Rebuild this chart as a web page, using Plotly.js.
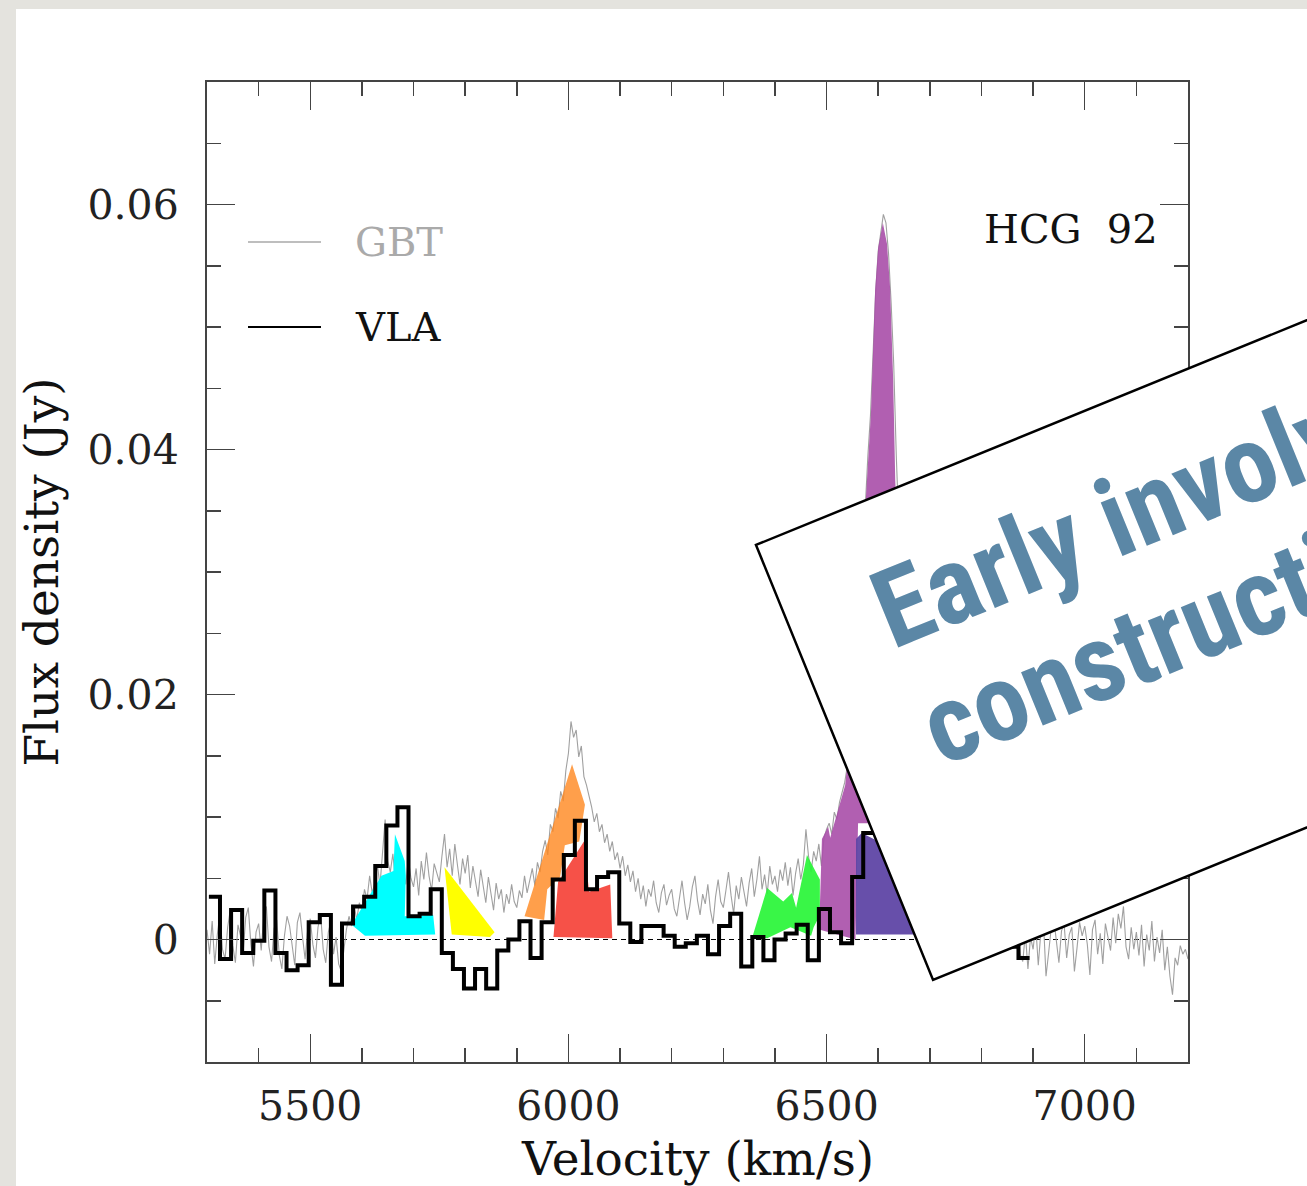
<!DOCTYPE html>
<html><head><meta charset="utf-8">
<script src="https://cdn.plot.ly/plotly-3.0.1.min.js"></script>
<style>html,body{margin:0;padding:0;background:#e4e3de;} #chart{width:1307px;height:1186px;}</style>
</head><body><div id="chart"></div>
<script>
// ---------- GBT spectrum (Jy), 5 km/s channels starting at 5300 km/s ----------
const gbtStartVelocity = 5300;
const gbtChannelStep = 5;
const gbtFlux = [
 0.0008,-0.0012,0.0015,-0.0020,0.0004,0.0021,-0.0008,-0.0016,0.0010,0.0024,-0.0005,-0.0019,0.0012,0.0003,-0.0011,0.0018,0.0026,-0.0004,-0.0022,0.0006,
 0.0013,-0.0009,0.0020,0.0027,-0.0006,-0.0018,0.0009,0.0016,-0.0013,-0.0024,0.0003,0.0019,0.0011,-0.0007,-0.0021,0.0014,0.0022,0.0002,-0.0016,0.0008,
 0.0017,-0.0004,-0.0015,0.0010,0.0021,-0.0008,-0.0019,0.0006,0.0015,-0.0012,0.0002,-0.0020,-0.0026,-0.0009,0.0008,0.0019,0.0011,0.0028,0.0016,0.0030,
 0.0024,0.0041,0.0033,0.0052,0.0038,0.0046,0.0061,0.0044,0.0072,0.0098,0.0064,0.0055,0.0070,0.0048,0.0062,0.0039,0.0057,0.0045,0.0066,0.0050,
 0.0043,0.0058,0.0036,0.0064,0.0049,0.0071,0.0052,0.0040,0.0062,0.0055,0.0047,0.0068,0.0086,0.0059,0.0074,0.0052,0.0078,0.0061,0.0045,0.0066,
 0.0054,0.0069,0.0042,0.0060,0.0048,0.0035,0.0057,0.0044,0.0030,0.0051,0.0038,0.0024,0.0046,0.0033,0.0041,0.0022,0.0037,0.0029,0.0045,0.0031,
 0.0026,0.0040,0.0034,0.0052,0.0038,0.0047,0.0058,0.0044,0.0063,0.0055,0.0072,0.0081,0.0069,0.0094,0.0088,0.0107,0.0099,0.0121,0.0113,0.0138,
 0.0152,0.0178,0.0165,0.0171,0.0149,0.0158,0.0133,0.0126,0.0117,0.0108,0.0096,0.0103,0.0088,0.0094,0.0079,0.0086,0.0072,0.0080,0.0065,0.0071,
 0.0058,0.0068,0.0052,0.0061,0.0047,0.0056,0.0039,0.0050,0.0033,0.0044,0.0027,0.0041,0.0035,0.0048,0.0030,0.0022,0.0038,0.0045,0.0028,0.0036,
 0.0041,0.0025,0.0019,0.0034,0.0048,0.0030,0.0016,0.0027,0.0043,0.0052,0.0032,0.0020,0.0037,0.0029,0.0045,0.0024,0.0013,0.0035,0.0049,0.0031,
 0.0026,0.0040,0.0055,0.0036,0.0021,0.0044,0.0033,0.0051,0.0038,0.0027,0.0046,0.0058,0.0035,0.0049,0.0068,0.0041,0.0053,0.0037,0.0060,0.0045,
 0.0052,0.0039,0.0057,0.0048,0.0063,0.0044,0.0059,0.0036,0.0054,0.0066,0.0049,0.0061,0.0090,0.0068,0.0055,0.0072,0.0064,0.0078,0.0060,0.0083,
 0.0090,0.0095,0.0086,0.0104,0.0098,0.0112,0.0120,0.0128,0.0141,0.0160,0.0185,0.0210,0.0235,0.0270,0.0315,0.0355,0.0395,0.0428,0.0480,0.0528,
 0.0562,0.0578,0.0592,0.0585,0.0560,0.0520,0.0470,0.0395,0.0330,0.0280,0.0240,0.0205,0.0185,0.0160,0.0150,0.0132,0.0125,0.0110,0.0102,0.0095,
 0.0088,0.0096,0.0080,0.0085,0.0072,0.0078,0.0066,0.0070,0.0061,0.0064,0.0055,0.0060,0.0049,0.0053,0.0046,0.0051,0.0040,0.0044,0.0037,0.0042,
 0.0035,0.0028,0.0033,0.0022,0.0030,0.0018,0.0025,0.0012,0.0021,0.0008,0.0016,0.0004,0.0011,-0.0006,0.0009,-0.0012,-0.0018,0.0005,-0.0024,0.0002,
 -0.0008,0.0012,-0.0021,0.0006,0.0015,-0.0030,-0.0011,0.0009,0.0017,-0.0004,-0.0019,0.0007,0.0013,-0.0015,0.0004,0.0010,-0.0026,-0.0007,0.0014,0.0003,
 0.0011,-0.0004,-0.0029,0.0008,0.0016,-0.0012,0.0005,-0.0020,0.0013,0.0002,-0.0009,0.0018,-0.0003,0.0021,0.0009,0.0027,-0.0006,-0.0016,0.0010,-0.0008,
 0.0006,-0.0013,0.0012,-0.0022,0.0004,-0.0009,0.0015,-0.0018,0.0002,-0.0011,0.0008,-0.0025,-0.0006,-0.0030,-0.0045,-0.0015,-0.0021,-0.0005,-0.0012,-0.0008,-0.0016
];

// ---------- VLA spectrum: channel centres (km/s) and flux (Jy) ----------
const vlaChannelWidth = 21.48;
const vlaVelocity = [
 5314.4,5335.9,5357.4,5378.8,5400.3,5421.8,5443.3,5464.8,5486.2,5507.7,
 5529.2,5550.7,5572.2,5593.6,5615.1,5636.6,5658.1,5679.6,5701.0,5722.5,
 5744.0,5765.5,5787.0,5808.4,5829.9,5851.4,5872.9,5894.4,5915.8,5937.3,
 5958.8,5980.3,6001.8,6023.2,6044.7,6066.2,6087.7,6109.2,6130.6,6152.1,
 6173.6,6195.1,6216.6,6238.0,6259.5,6281.0,6302.5,6324.0,6345.4,6366.9,
 6388.4,6409.9,6431.4,6452.8,6474.3,6495.8,6517.3,6538.8,6560.2,6581.7,
 6603.2,6624.7,6646.2,6667.6,6689.1,6710.6,6732.1,6753.6,6775.0,6796.5,
 6818.0,6839.5,6861.0,6882.4
];
const vlaFlux = [
 0.0035,-0.0016,0.0024,-0.0011,-0.0001,0.0040,-0.0011,-0.0025,-0.0021,0.0014,
 0.0020,-0.0037,0.0013,0.0027,0.0035,0.0060,0.0093,0.0108,0.0019,0.0021,
 0.0041,-0.0011,-0.0024,-0.0040,-0.0024,-0.0040,-0.0009,0.0000,0.0015,-0.0015,
 0.0014,0.0049,0.0069,0.0097,0.0041,0.0051,0.0055,0.0013,-0.0002,0.0011,
 0.0011,0.0003,-0.0006,-0.0003,0.0003,-0.0012,0.0011,0.0021,-0.0022,0.0002,
 -0.0017,0.0000,0.0005,0.0012,-0.0017,0.0025,0.0006,-0.0003,0.0051,0.0087,
 0.0090,0.0082,0.0070,0.0058,0.0045,0.0032,0.0024,0.0015,0.0010,0.0004,
 0.0002,-0.0004,-0.0006,-0.0015
];

// ---------- highlighted components (polygon vertices: velocity, flux) ----------
const cyanVel   = [5580,5638,5661,5664,5683,5685,5683,5738,5742,5606];
const cyanFlux  = [0.0012,0.0052,0.0056,0.0086,0.0064,0.0052,0.0019,0.0020,0.0004,0.0003];
const yellowVel  = [5760,5857,5848,5774];
const yellowFlux = [0.0059,0.0006,0.0002,0.0004];
const orangeVel  = [5915,6007,6032,6021,5993,5984,5959,5953];
const orangeFlux = [0.0019,0.0143,0.0110,0.0080,0.0077,0.0051,0.0041,0.0016];
const redVel  = [5971,5980,6030,6040,6081,6085];
const redFlux = [0.0002,0.0047,0.0080,0.0039,0.0045,0.0001];
const greenVel  = [6357,6385,6416,6433,6441,6462,6487,6487,6475,6470,6430,6385];
const greenFlux = [0.0003,0.0042,0.0031,0.0038,0.0026,0.0069,0.0049,0.0020,0.0010,0.0003,0.0010,0.0001];
const purpleVel  = [6487,6487,6491,6503,6507,6526,6536,6545,6561,6576,6586,6594,6600,6609,6617,6623,6629,6633,6642,6652,6580,6561,6556];
const purpleFlux = [0.0008,0.0027,0.0082,0.0092,0.0083,0.0112,0.0126,0.0163,0.0236,0.0359,0.0430,0.0530,0.0565,0.0585,0.0568,0.0532,0.0457,0.0375,0.0277,0.0147,0.0095,0.0095,0.0000];
const slateVel  = [6557,6557,6568,6625,6700];
const slateFlux = [0.0004,0.0082,0.0087,0.0075,0.0004];

// ---------- axes ----------
const xTickVals = [5500,6000,6500,7000];
const xTickText = ['5500','6000','6500','7000'];
const yTickVals = [0,0.02,0.04,0.06];
const yTickText = ['0','0.02','0.04','0.06'];

const gbtVelocity = gbtFlux.map((_, i) => gbtStartVelocity + i * gbtChannelStep);
const vlaStepX = vlaVelocity.map(v => v - vlaChannelWidth / 2)
  .concat([vlaVelocity[vlaVelocity.length - 1] + vlaChannelWidth / 2]);
const vlaStepY = vlaFlux.concat([vlaFlux[vlaFlux.length - 1]]);

function poly(x, y, color) {
  return {x: x, y: y, type: 'scatter', mode: 'lines', fill: 'toself',
          fillcolor: color, line: {width: 0}, hoverinfo: 'skip', showlegend: false};
}

const traces = [
  {x: gbtVelocity, y: gbtFlux, type: 'scatter', mode: 'lines', name: 'GBT',
   line: {color: '#a0a0a0', width: 1.1}, showlegend: false},
  poly(cyanVel, cyanFlux, 'rgb(0,255,255)'),
  poly(yellowVel, yellowFlux, 'rgb(255,255,0)'),
  poly(orangeVel, orangeFlux, 'rgba(255,135,30,0.8)'),
  poly(redVel, redFlux, 'rgba(245,50,40,0.85)'),
  poly(greenVel, greenFlux, 'rgba(40,245,55,0.92)'),
  poly(purpleVel, purpleFlux, 'rgba(168,78,168,0.9)'),
  poly(slateVel, slateFlux, 'rgba(95,70,165,0.95)'),
  {x: vlaStepX, y: vlaStepY, type: 'scatter', mode: 'lines', name: 'VLA',
   line: {color: '#000', width: 4, shape: 'hv'}, showlegend: false}
];

const axisCommon = {
  showgrid: false, zeroline: false, showline: true, linecolor: '#444', linewidth: 2,
  mirror: 'allticks', ticks: 'inside', ticklen: 28, tickwidth: 1.5, tickcolor: '#444',
  tickfont: {family: 'DejaVu Serif, serif', size: 41, color: '#222'}
};

const serif = 'DejaVu Serif, serif';
const boxFont = 'Roboto Condensed, Roboto, Liberation Sans, sans-serif';

const layout = {
  width: 1307, height: 1186,
  margin: {l: 207, r: 119, t: 82, b: 124, pad: 0},
  paper_bgcolor: '#e4e3de', plot_bgcolor: 'rgba(0,0,0,0)',
  showlegend: false,
  xaxis: Object.assign({}, axisCommon, {
    range: [5300, 7200], tickmode: 'array', tickvals: xTickVals, ticktext: xTickText,
    ticklabelstandoff: 7,
    minor: {tickmode: 'linear', tick0: 5300, dtick: 100, ticks: 'inside', ticklen: 14, tickwidth: 1.5, tickcolor: '#444', showgrid: false}
  }),
  yaxis: Object.assign({}, axisCommon, {
    range: [-0.01, 0.07], tickmode: 'array', tickvals: yTickVals, ticktext: yTickText,
    ticklabelstandoff: 18,
    minor: {tickmode: 'linear', tick0: 0, dtick: 0.005, ticks: 'inside', ticklen: 14, tickwidth: 1.5, tickcolor: '#444', showgrid: false}
  }),
  shapes: [
    // white panel behind the figure
    {type: 'rect', xref: 'paper', yref: 'paper', x0: -0.1947, x1: 1.3, y0: -0.2, y1: 1.0745,
     fillcolor: '#ffffff', line: {width: 0}, layer: 'below'},
    // dashed zero line
    {type: 'line', xref: 'paper', yref: 'y', x0: 0, x1: 1, y0: 0, y1: 0,
     line: {color: '#000', width: 1, dash: '5px,4px'}, layer: 'below'},
    // legend samples
    {type: 'line', xref: 'paper', yref: 'paper', x0: 0.0418, x1: 0.1162, y0: 0.8367, y1: 0.8367,
     line: {color: '#a8a8a8', width: 1.5}},
    {type: 'line', xref: 'paper', yref: 'paper', x0: 0.0418, x1: 0.1162, y0: 0.75, y1: 0.75,
     line: {color: '#000', width: 2}},
    // rotated slide card
    {type: 'path', xref: 'paper', yref: 'paper', layer: 'above',
     path: 'M 0.5596 0.5276 L 1.2202 0.7974 L 1.4006 0.3536 L 0.7401 0.0837 Z',
     fillcolor: '#ffffff', line: {color: '#000', width: 2.5}}
  ],
  annotations: [
    {xref: 'paper', yref: 'paper', x: 0.1488, y: 0.8367, xanchor: 'left', yanchor: 'middle',
     text: 'GBT', showarrow: false, font: {family: serif, size: 40, color: '#aaaaaa'}},
    {xref: 'paper', yref: 'paper', x: 0.1488, y: 0.75, xanchor: 'left', yanchor: 'middle',
     text: 'VLA', showarrow: false, font: {family: serif, size: 40, color: '#111'}},
    {xref: 'paper', yref: 'paper', x: 0.9715, y: 0.85, xanchor: 'right', yanchor: 'middle',
     text: 'HCG\u00a0\u00a092', showarrow: false, font: {family: serif, size: 40, color: '#111'}},
    {xref: 'paper', yref: 'paper', x: 0.5, y: -0.098, xanchor: 'center', yanchor: 'middle',
     text: 'Velocity (km/s)', showarrow: false, font: {family: serif, size: 47, color: '#111'}},
    {xref: 'paper', yref: 'paper', x: -0.1697, y: 0.5, xanchor: 'center', yanchor: 'middle',
     text: 'Flux density (Jy)', textangle: -90, showarrow: false, font: {family: serif, size: 47, color: '#111'}},
    {xref: 'paper', yref: 'paper', x: 0.6578, y: 0.3926, xanchor: 'left', yanchor: 'bottom',
     text: 'Early involvement in', textangle: -22.2, showarrow: false,
     font: {family: boxFont, size: 109, color: '#5b87a6', weight: 'bold'}},
    {xref: 'paper', yref: 'paper', x: 0.7067, y: 0.2726, xanchor: 'left', yanchor: 'bottom',
     text: 'construction', textangle: -22.2, showarrow: false,
     font: {family: boxFont, size: 109, color: '#5b87a6', weight: 'bold'}}
  ]
};

Plotly.newPlot('chart', traces, layout, {staticPlot: true, displayModeBar: false});
</script>
</body></html>
